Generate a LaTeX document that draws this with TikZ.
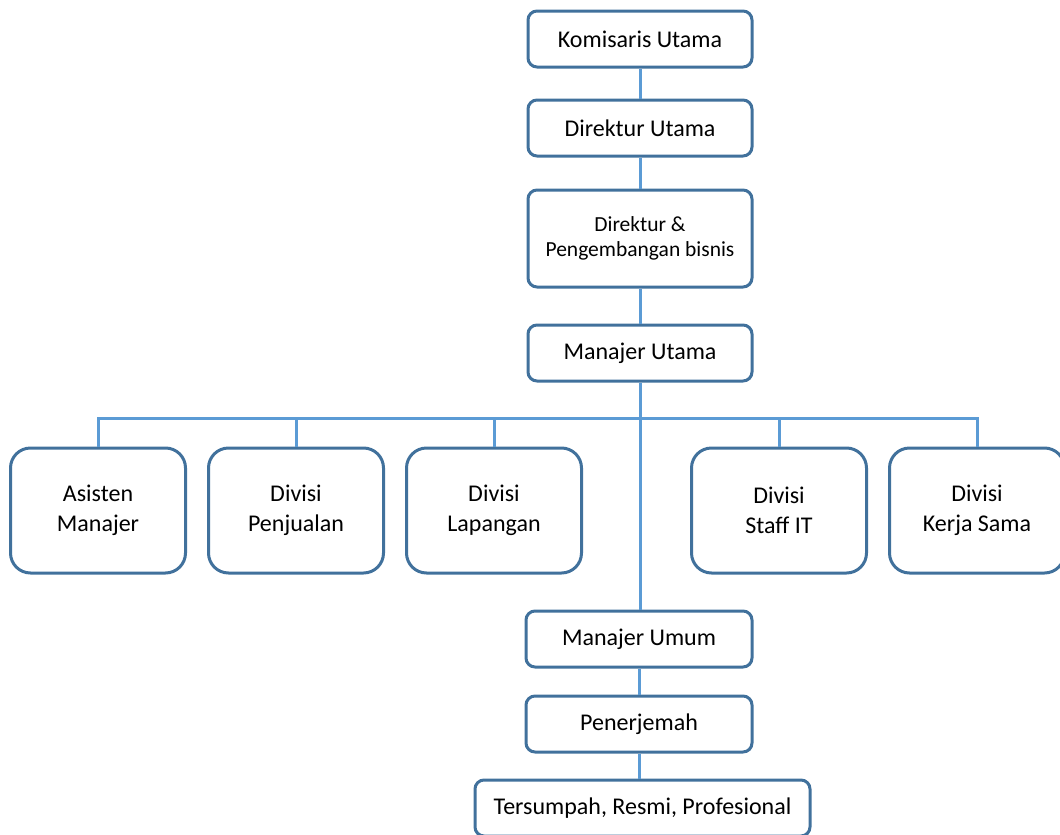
\documentclass[tikz,border=0pt]{standalone}
\usepackage{fontspec}
\setmainfont{Carlito}
\begin{document}
\begin{tikzpicture}[x=1pt,y=-1pt,
  box/.style={draw=boxc, line width=3pt, rounded corners=9pt, fill=white, minimum width=224pt, minimum height=56pt, align=center, font=\fontsize{24}{28}\selectfont, inner sep=0pt},
  divbox/.style={draw=boxc, line width=3pt, rounded corners=20pt, fill=white, minimum width=175pt, minimum height=125pt, align=center, font=\fontsize{24}{30}\selectfont, inner sep=0pt},
  link/.style={draw=linec, line width=3pt}]
\definecolor{boxc}{HTML}{41719C}
\definecolor{linec}{HTML}{5B9BD5}
\useasboundingbox (0,0) rectangle (1060,835);
\node[box] (ku) at (640,39) {Komisaris Utama};
\node[box] (du) at (640,128) {Direktur Utama};
\node[box, minimum height=97pt, font=\fontsize{21.5}{25}\selectfont] (dp) at (640,238.5) {Direktur \&\\Pengembangan bisnis};
\node[box] (mu) at (640,353) {Manajer Utama};
\node[divbox] (am) at (98,510.5) {Asisten\\Manajer};
\node[divbox] (dj) at (296,510.5) {Divisi\\Penjualan};
\node[divbox] (dl) at (494,510.5) {Divisi\\Lapangan};
\node[divbox] (ds) at (779,510.5) {Divisi\\Staff IT};
\node[divbox] (dk) at (977,510.5) {Divisi\\Kerja Sama};
\node[box, minimum width=226pt] (mum) at (639,639) {Manajer Umum};
\node[box, minimum width=226pt] (pn) at (639,724) {Penerjemah};
\node[box, minimum width=335pt] (ts) at (642.5,808) {Tersumpah, Resmi, Profesional};
\coordinate (bar) at (640,418);
\path[link] (ku) -- (du);
\path[link] (du) -- (dp);
\path[link] (dp) -- (mu);
\path[link] (mu.south) -- (mum.north -| mu.south);
\path[link] (bar) -| (am.north);
\path[link] (bar) -| (dj.north);
\path[link] (bar) -| (dl.north);
\path[link] (bar) -| (ds.north);
\path[link] (bar) -| (dk.north);
\path[link] (mum) -- (pn);
\path[link] (pn) -- (pn.south |- ts.north);
\end{tikzpicture}
\end{document}
